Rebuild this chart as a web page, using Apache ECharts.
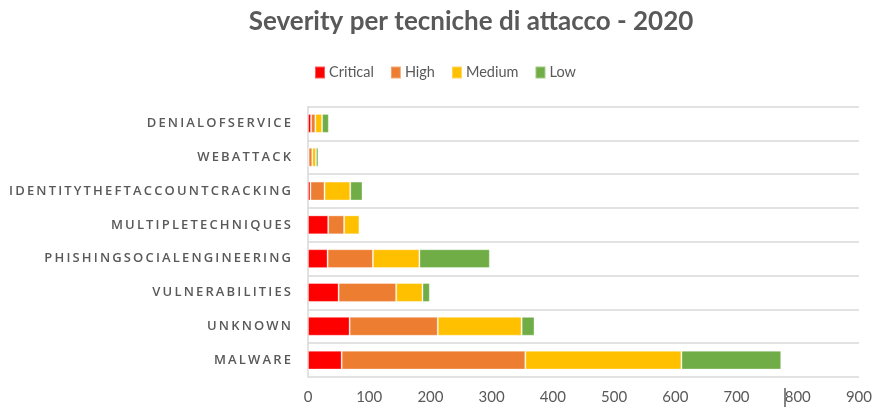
<!DOCTYPE html>
<html>
<head>
<meta charset="utf-8">
<script src="https://cdn.jsdelivr.net/npm/echarts@6/dist/echarts.min.js"></script>
<style>
html,body{margin:0;padding:0;background:#fff;}
#chart{width:875px;height:408px;}
</style>
</head>
<body>
<div id="chart"></div>
<script>
// Categories listed bottom -> top (ECharts category y-axis starts at the bottom)
const categories = ['MALWARE','UNKNOWN','VULNERABILITIES','PHISHINGSOCIALENGINEERING','MULTIPLETECHNIQUES','IDENTITYTHEFTACCOUNTCRACKING','WEBATTACK','DENIALOFSERVICE'];
const critical = [55, 68, 50, 32, 33, 4, 1, 5];
const high     = [300, 144, 94, 74, 26, 23, 6, 7];
const medium   = [255, 137, 43, 76, 25, 42, 6, 11];
const low      = [163, 21, 12, 115, 1, 20, 4, 11];
const seriesNames = ['Critical','High','Medium','Low'];
const colors = ['#FF0000','#ED7D31','#FFC000','#70AD47'];
const xTicks = [0,100,200,300,400,500,600,700,800,900];

const chart = echarts.init(document.getElementById('chart'));
const values = [critical, high, medium, low];
const series = seriesNames.map((n,i)=>({
  name:n, type:'bar', stack:'total', data:values[i],
  barCategoryGap:'44%',
  itemStyle:{color:colors[i], borderColor:'rgba(255,255,255,0.35)', borderWidth:1},
  emphasis:{disabled:true}
}));
chart.setOption({
  animation:false,
  color:colors,
  title:{
    text:'Severity per tecniche di attacco - 2020',
    left:466, top:4, textAlign:'center',
    textStyle:{fontFamily:'Lato', fontWeight:'bold', fontSize:26, color:'#595959'}
  },
  legend:{
    data:seriesNames, top:60, left:309, itemWidth:10, itemHeight:12, itemGap:16,
    icon:'rect',
    textStyle:{fontFamily:'Lato', fontSize:14.5, color:'#595959', padding:[0,0,0,-1]}
  },
  grid:{left:308, right:16, top:106.5, bottom:31, containLabel:false},
  xAxis:{
    type:'value', min:0, max:900, interval:100,
    axisLine:{show:false}, axisTick:{show:false}, splitLine:{show:false},
    axisLabel:{fontFamily:'Lato', fontSize:15, color:'#595959', margin:13,
      formatter:(v)=> xTicks.indexOf(v)>=0 ? String(v) : ''}
  },
  yAxis:{
    type:'category', data:categories,
    axisLine:{show:true, lineStyle:{color:'#D9D9D9', width:1.5}},
    axisTick:{show:false},
    splitLine:{show:true, lineStyle:{color:'#D9D9D9', width:1.5}},
    axisLabel:{fontFamily:'Open Sans', fontSize:13, fontWeight:600, color:'#595959', margin:17,
      formatter:(v)=> v.split('').join('\u2009')}
  },
  graphic:[{type:'line', shape:{x1:785, y1:388, x2:785, y2:407}, style:{stroke:'#333', lineWidth:1.2}}],
  series:series
});
</script>
</body>
</html>
